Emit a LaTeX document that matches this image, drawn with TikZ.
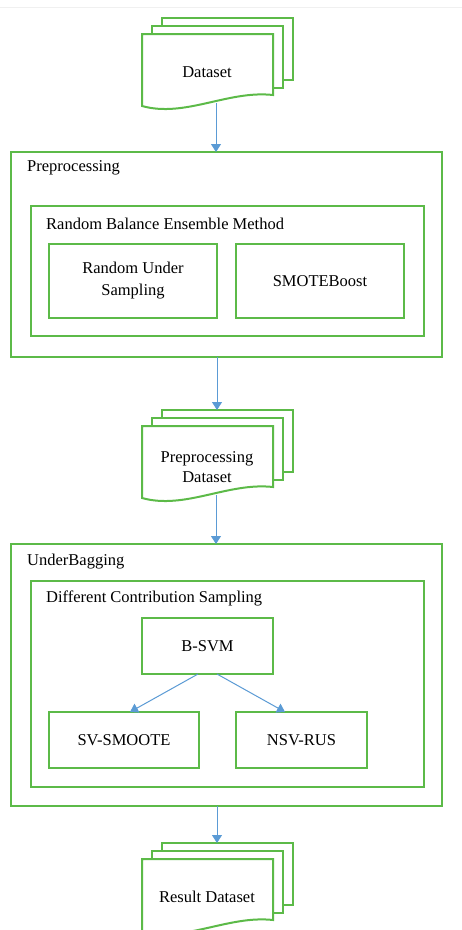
\documentclass[tikz,border=0pt]{standalone}
\usepackage{fontspec}
\setmainfont{Liberation Serif}
\newfontfamily\diagfont{Liberation Serif}
\usetikzlibrary{arrows.meta,calc}
\definecolor{boxgreen}{RGB}{92,186,72}
\definecolor{arrowblue}{RGB}{91,155,213}
\tikzset{
  gbox/.style={draw=boxgreen,line width=2pt,fill=white,inner sep=0pt,outer sep=0pt,align=center},
  gline/.style={draw=boxgreen,line width=2pt,fill=white,line join=miter},
  lbl/.style={inner sep=0pt,anchor=west},
  txt/.style={inner sep=0pt,align=center},
  flow/.style={draw=arrowblue,line width=1pt,-{Triangle[width=10pt,length=8pt]}},
}
\newcommand{\docstack}[4]{%
  \begin{scope}[shift={(0,#2)}]
    \path[gline] (162,18) rectangle (293,80);
    \path[gline] (152,26) rectangle (283,88);
    \path[gline] (142,34) -- (273,34) -- (273,95)
       .. controls (228,90) and (185,118) .. (142,106) -- cycle;
    \node[txt] (#1) at (207,#4) {#3};
    \coordinate (#1-in) at (217,18);
    \coordinate (#1-out) at (216,103);
  \end{scope}}
\begin{document}
\begin{tikzpicture}[x=1pt,y=-1pt,font=\diagfont\fontsize{16.5}{20}\selectfont]
\useasboundingbox (0,0) rectangle (462,930);
\draw[black!6,line width=1pt] (0,7) -- (462,7);

% Dataset
\docstack{ds}{0}{Dataset}{72}

% Preprocessing
\node[gbox,minimum width=431pt,minimum height=205pt] (prep) at (226.5,254.5) {};
\node[lbl] (preplbl) at (27,168) {Preprocessing};
\node[gbox,minimum width=393pt,minimum height=130pt] (rbem) at (227.5,271) {};
\node[lbl] (rbemlbl) at (46,224) {Random Balance Ensemble Method};
\node[gbox,minimum width=168pt,minimum height=74pt] (rus) at (133,281) {Random Under\\[2pt]Sampling};
\node[gbox,minimum width=168pt,minimum height=74pt] (smb) at (320,281) {SMOTEBoost};

% Preprocessing Dataset
\docstack{pd}{392}{Preprocessing\\Dataset}{75}

% UnderBagging
\node[gbox,minimum width=431pt,minimum height=262pt] (ub) at (226.5,675) {};
\node[lbl] (ublbl) at (27,562) {UnderBagging};
\node[gbox,minimum width=393pt,minimum height=206pt] (dcs) at (227.5,684) {};
\node[lbl] (dcslbl) at (46,598) {Different Contribution Sampling};
\node[gbox,minimum width=131pt,minimum height=56pt] (bsvm) at (207.5,646) {B-SVM};
\node[gbox,minimum width=150pt,minimum height=56pt] (sv) at (124,740) {SV-SMOOTE};
\node[gbox,minimum width=131pt,minimum height=56pt] (nsv) at (301.5,740) {NSV-RUS};

% Result Dataset
\docstack{rd}{825}{Result Dataset}{72}

% connectors
\draw[flow] (ds-out) -- (ds-out |- prep.north);
\draw[flow] (pd-in |- prep.south) -- (pd-in);
\draw[flow] (pd-out) -- (pd-out |- ub.north);
\draw[flow] ($(bsvm.south)+(-9.5,0)$) -- ($(sv.north)+(6,0)$);
\draw[flow] ($(bsvm.south)+(9.5,0)$) -- ($(nsv.north)+(-16.5,0)$);
\draw[flow] (rd-in |- ub.south) -- (rd-in);
\end{tikzpicture}
\end{document}
